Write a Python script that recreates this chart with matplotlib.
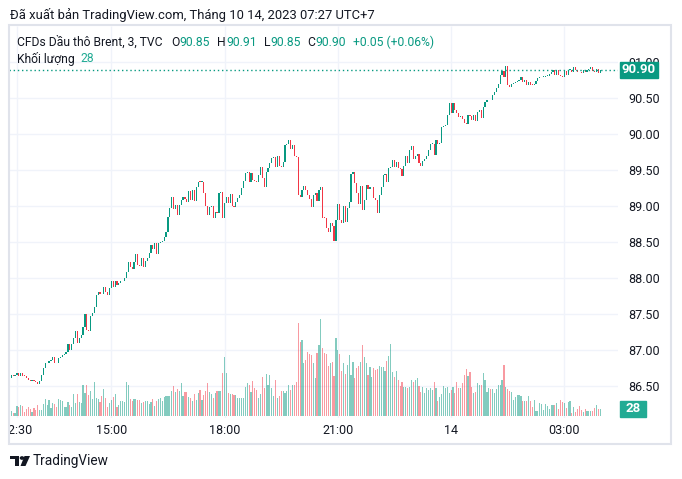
import numpy as np
import matplotlib
matplotlib.use("Agg")
import matplotlib.pyplot as plt
from matplotlib.patches import Rectangle, Polygon
from matplotlib.transforms import blended_transform_factory, Bbox, TransformedBbox, IdentityTransform

plt.rcParams['font.family'] = ['Roboto', 'DejaVu Sans']

# --- data: 3-minute closes, Brent CFD (TVC) ---
first_open = 86.60

close_a = [86.65, 86.64, 86.65, 86.67, 86.64, 86.67, 86.64, 86.63, 86.61, 86.58,
           86.57, 86.57, 86.56, 86.55, 86.52, 86.56,
           86.65, 86.74, 86.81, 86.81, 86.85, 86.86, 86.90, 86.82, 86.81, 86.89, 86.90, 86.92, 86.94, 86.97,
           87.08, 86.99, 87.08, 87.17, 87.26, 87.10, 87.17, 87.20,
           87.31, 87.50, 87.28, 87.26, 87.47, 87.51, 87.60, 87.76, 87.81, 87.78, 87.77, 87.88, 87.81, 87.76,
           87.86, 87.96, 87.88, 87.96, 87.90, 87.93, 87.95, 87.96, 88.00,
           88.08, 88.22, 88.15, 88.12, 88.22, 88.33, 88.18, 88.17, 88.28, 88.15, 88.24, 88.28, 88.35, 88.46,
           88.40, 88.49, 88.33]

close_b = [88.48, 88.50, 88.52, 88.57, 88.64, 88.85, 88.97, 89.13, 88.96, 89.02,
           88.87, 89.02, 89.09, 89.12, 89.10, 89.05, 89.21, 89.09, 89.22, 89.07,
           89.27, 89.34, 89.33, 89.33, 89.18, 89.00, 88.88, 88.99, 89.00, 88.83,
           88.92, 88.90, 89.18, 89.20, 88.83, 89.04, 89.12, 89.04, 89.17, 89.00,
           88.99, 89.05, 89.11, 89.15, 89.25, 89.35, 89.46, 89.47, 89.34, 89.46,
           89.36, 89.35, 89.34, 89.43, 89.55, 89.39, 89.26, 89.47, 89.53, 89.60,
           89.67, 89.68, 89.55, 89.69, 89.56, 89.54, 89.62, 89.85, 89.86, 89.92,
           89.80, 89.85, 89.69, 89.68, 89.15, 89.12, 89.22, 89.28, 89.22, 89.15,
           89.10, 88.98]

close_c = [89.15, 89.18, 89.07, 89.23, 89.27, 88.84, 88.83, 88.70, 88.64, 88.76,
           88.72, 88.52, 88.81, 89.03, 88.80, 88.76, 89.00, 88.78, 88.97, 89.05,
           89.45, 89.47, 89.32, 89.18, 89.03, 89.28, 88.94, 89.09, 89.29, 89.24,
           89.26, 89.27, 89.11, 89.09, 88.91, 89.15, 89.27, 89.43, 89.45, 89.34,
           89.53, 89.55, 89.64, 89.55, 89.62, 89.53, 89.52, 89.42, 89.56, 89.69,
           89.60, 89.78, 89.83, 89.66, 89.69, 89.73, 89.60, 89.56, 89.63, 89.65,
           89.69, 89.78, 89.86, 89.87, 89.71, 89.92, 89.86, 89.88, 90.10, 90.11,
           90.13, 90.27, 90.43, 90.29, 90.43, 90.34, 90.30, 90.24, 90.26]

close_d = [90.21, 90.15, 90.14, 90.27, 90.26, 90.20, 90.27, 90.18, 90.31, 90.34,
           90.23, 90.38, 90.45, 90.47, 90.48, 90.47, 90.55, 90.59, 90.64, 90.70,
           90.82, 90.88, 90.80, 90.95, 90.68, 90.66, 90.70, 90.71, 90.73, 90.74,
           90.75, 90.79, 90.73, 90.75, 90.69, 90.73, 90.69, 90.68, 90.70, 90.74,
           90.78, 90.79, 90.80, 90.80, 90.81, 90.81, 90.84, 90.86, 90.89, 90.82,
           90.89, 90.82, 90.81, 90.80, 90.88, 90.82, 90.89, 90.90, 90.86, 90.93,
           90.90, 90.87, 90.86, 90.85, 90.89, 90.86, 90.90, 90.91, 90.93, 90.88,
           90.86, 90.91, 90.85, 90.90]

vol_a = [20, 13, 13, 40, 35, 44, 40, 17, 28, 35, 30,
         17, 31, 24, 44, 24, 24, 48, 67, 44, 64,
         31, 53, 48, 37, 68, 64, 60, 37, 35, 57, 44,
         35, 87, 51, 87, 57, 51, 124, 91, 124, 84,
         100, 67, 135, 71, 68, 57, 80, 108, 71, 35, 52,
         64, 77, 88, 37, 44, 60, 60, 57, 135, 124,
         67, 61, 68, 68, 64, 64, 53, 57, 61, 61, 47,
         57, 68, 40, 60, 68, 73, 61, 77, 80, 81,
         81, 100, 120, 97, 107, 100, 131, 80, 97, 97, 78,
         71, 60, 87, 64, 93, 104, 64, 84, 100, 131, 95,
         87, 71, 91, 100, 100, 100]

vol_b = [173, 237, 171, 91, 87, 87, 84, 84, 71, 71, 71,
         71, 117, 133, 124, 97, 141, 111, 104, 71, 87,
         155, 111, 168, 124, 164, 111, 80, 144, 71, 80,
         100, 100, 93, 100, 124, 104, 124, 124, 137, 372,
         297, 304, 213, 224, 257, 250, 244, 211, 151, 251, 284,
         388, 271, 251, 248, 200, 211, 217, 160, 311, 264,
         248, 181, 211, 168, 204, 244, 164, 217, 151, 191, 200,
         215, 284, 237, 211, 164, 195, 157, 191, 184, 187,
         200, 195, 197, 181, 221, 240, 288, 177, 157, 181, 144,
         120, 137, 117, 115, 111, 117, 144, 137, 144, 151, 120,
         97, 115, 93, 111, 104, 111, 104, 137, 111, 61, 75,
         88, 120, 111, 117]

vol_c = [91, 104, 115, 91, 137, 111, 111, 131, 164, 187, 160,
         177, 115, 91, 97, 133, 124, 124, 171, 144, 97,
         111, 108, 107, 91, 108, 124, 124, 144, 204, 115, 110,
         100, 97, 64, 77, 84, 84, 80, 60, 60, 60,
         80, 60, 35, 64, 21, 21, 51, 48, 24, 47, 40,
         28, 44, 44, 44, 53, 28, 64, 57, 53, 31,
         57, 60, 13, 37, 17, 28, 40, 24, 17, 27, 22,
         20, 20, 21, 31, 44, 28, 28]

last_high = 90.91
last_low = 90.85

time_labels = ["12:30", "15:00", "18:00", "21:00", "14", "03:00"]
time_idx = [3, 53, 113, 173, 233, 293]   # bar index of each label
price_ticks = np.arange(86.5, 91.01, 0.5)

closes = np.array(close_a + close_b + close_c + close_d)
opens = np.concatenate([[first_open], closes[:-1]])
volume = np.array(vol_a + vol_b + vol_c)
idx = np.arange(len(closes))
up = closes >= opens

GREEN = '#089981'
RED = '#f23645'
DARK = '#131722'
GRID = '#f0f3fa'

W, H = 682, 479
fig = plt.figure(figsize=(W / 100, H / 100), dpi=100)


def fx(px):
    return px / W


def fy(py):
    return 1 - py / H


rect = [fx(9), fy(418), fx(618) - fx(9), fy(26) - fy(418)]
ax_vol = fig.add_axes(rect)
ax = fig.add_axes(rect, sharex=ax_vol)
ax.patch.set_visible(False)

ax.set_xlim(-1.22, 321.43)
ax.set_ylim(86.05, 91.506)
ax_vol.set_ylim(-8, 1560)

# grid (drawn on the bottom axes so it sits under everything)
hy = blended_transform_factory(ax_vol.transAxes, ax.transData)
for p in price_ticks:
    ax_vol.plot([0, 1], [p, p], transform=hy, color=GRID, lw=1, zorder=0)
vx = blended_transform_factory(ax_vol.transData, ax_vol.transAxes)
ax_vol.vlines(time_idx, 0, 1, transform=vx, color=GRID, lw=1, zorder=0)

# volume
vcol = np.where(up, GREEN, RED)
ax_vol.bar(idx, volume, width=0.62, color=vcol, alpha=0.5, linewidth=0, zorder=1)

# candles
ccol = np.where(up, GREEN, RED)
body = np.maximum(np.abs(closes - opens), 0.012)
ax.bar(idx, body, bottom=np.minimum(opens, closes), width=0.62, color=ccol, linewidth=0, zorder=2)

# last price line
ax.axhline(closes[-1], color=GREEN, lw=1, linestyle=(0, (1, 2)), zorder=3)

for a in (ax, ax_vol):
    for s in a.spines.values():
        s.set_visible(False)
ax_vol.tick_params(left=False, bottom=False, labelleft=False, labelbottom=False)

ax.yaxis.tick_right()
ax.set_yticks(price_ticks, [f"{p:.2f}" for p in price_ticks])
ax.tick_params(axis='y', length=0, pad=7.2, labelsize=9, labelcolor=DARK)
ax.set_xticks(time_idx, time_labels)
ax.tick_params(axis='x', length=0, pad=4.5, labelsize=9, labelcolor=DARK)

# clip the first time label at the pane edge, like the original
clip = TransformedBbox(Bbox.from_extents(10, 0, 672, H), IdentityTransform())
for t in ax.xaxis.get_major_ticks():
    t.label1.set_clip_box(clip)
    t.label1.set_clip_on(True)

# last price badge
bx = blended_transform_factory(ax.transAxes, ax.transData)
ph = 8 / 71.85
ax.add_patch(Rectangle((1.0033, closes[-1] - ph), 0.0624, 2 * ph, transform=bx,
                       color=GREEN, clip_on=False, zorder=5))
ax.text(1.0345, closes[-1], f"{closes[-1]:.2f}", transform=bx, color='white',
        fontsize=9.5, fontweight='bold', ha='center', va='center', clip_on=False, zorder=6)

# volume badge
bv = blended_transform_factory(ax_vol.transAxes, ax_vol.transData)
ax_vol.add_patch(Rectangle((1.0033, volume[-1] - 32), 0.0427, 64, transform=bv,
                           color='#22ab94', clip_on=False, zorder=5))
ax_vol.text(1.0246, volume[-1], f"{volume[-1]}", transform=bv, color='white',
            fontsize=9.5, fontweight='bold', ha='center', va='center', clip_on=False, zorder=6)

# pane border
fig.add_artist(Rectangle((fx(9), fy(444)), fx(671) - fx(9), fy(25) - fy(444),
                         transform=fig.transFigure, fill=False, ec='#e0e3eb', lw=1.5))

# header and legend
fig.text(fx(10), fy(15), "Đã xuất bản TradingView.com, Tháng 10 14, 2023 07:27 UTC+7",
         fontsize=9.4, color=DARK, va='center')

renderer = fig.canvas.get_renderer()


def segments(x, y, parts, size=8.7):
    for txt, col, gap in parts:
        t = fig.text(fx(x), fy(y), txt, color=col, fontsize=size, va='center')
        x += t.get_window_extent(renderer=renderer).width + gap


chg = closes[-1] - opens[-1]
pct = chg / opens[-1] * 100
segments(17, 42, [("CFDs Dầu thô Brent, 3, TVC", DARK, 9),
                  ("O", DARK, 0), (f"{opens[-1]:.2f}", GREEN, 7),
                  ("H", DARK, 0), (f"{last_high:.2f}", GREEN, 7),
                  ("L", DARK, 0), (f"{last_low:.2f}", GREEN, 7),
                  ("C", DARK, 0), (f"{closes[-1]:.2f}", GREEN, 7),
                  (f"{chg:+.2f} ({pct:+.2f}%)", GREEN, 0)])
segments(17, 59, [("Khối lượng", DARK, 6), (f"{volume[-1]}", '#22ab94', 0)])

# footer logo + wordmark
logo = [
    [(10, 456), (19.3, 456), (19.3, 466), (14.7, 466), (14.7, 459.3), (10, 459.3)],
    [(24.5, 456), (30, 456), (25.5, 466), (20.5, 466)],
]
for poly in logo:
    fig.add_artist(Polygon([(fx(a), fy(b)) for a, b in poly], closed=True,
                           transform=fig.transFigure, color=DARK, lw=0))
fig.add_artist(plt.Circle((fx(22), fy(458)), 1.6 / W, transform=fig.transFigure, color=DARK))
fig.text(fx(33), fy(461), "TradingView", fontsize=9.8, color=DARK, va='center')

fig.savefig("out.png", dpi=100)
